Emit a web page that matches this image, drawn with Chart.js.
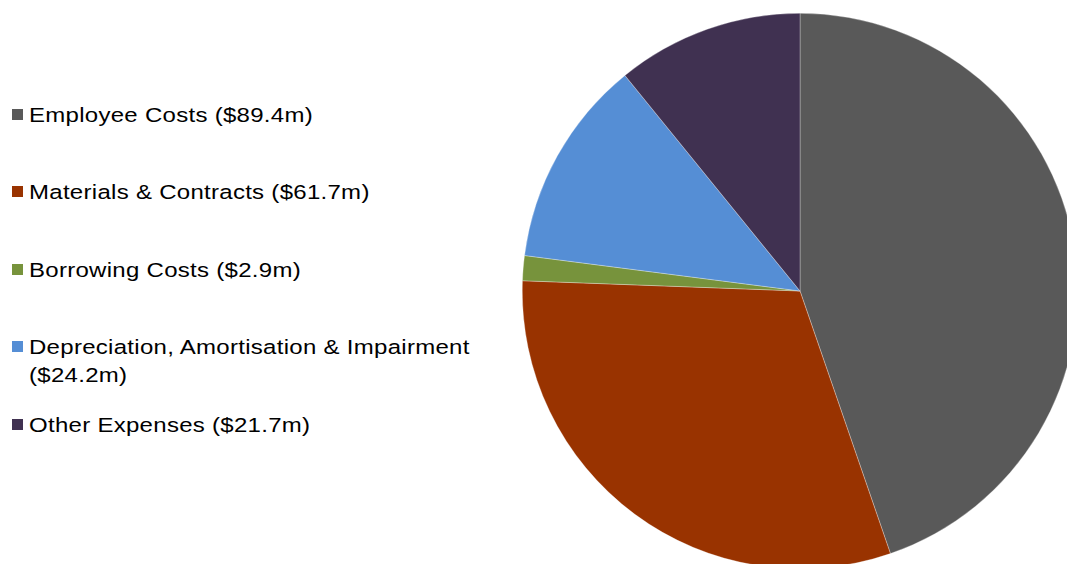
<!DOCTYPE html>
<html>
<head>
<meta charset="utf-8">
<script src="https://cdn.jsdelivr.net/npm/chart.js@4.4.1/dist/chart.umd.min.js"></script>
<style>
  html, body { margin: 0; padding: 0; background: #fff; }
  #frame { position: relative; width: 1067px; height: 564px; overflow: hidden; background: #fff; }
  #pieBox { position: absolute; left: 522px; top: 13px; width: 556px; height: 556px; }
  #legend { position: absolute; left: 0; top: 0; font-family: "Liberation Sans", Arial, sans-serif; font-size: 20.5px; color: #000; }
  .item { position: absolute; left: 0; width: 490px; line-height: 28px; }
  .swatch { position: absolute; left: 12px; top: 8px; width: 11px; height: 11px; }
  .label { position: absolute; left: 29px; width: 390px; letter-spacing: 0.25px;
           transform: scaleX(1.17); transform-origin: 0 0; white-space: normal; }
</style>
</head>
<body>
<div id="frame">
  <div id="legend"></div>
  <div id="pieBox"><canvas id="pie" width="556" height="556"></canvas></div>
</div>
<script>
const categories = [
  "Employee Costs ($89.4m)",
  "Materials & Contracts ($61.7m)",
  "Borrowing Costs ($2.9m)",
  "Depreciation, Amortisation & Impairment ($24.2m)",
  "Other Expenses ($21.7m)"
];
const expenses = [89.4, 61.7, 2.9, 24.2, 21.7];
const colors = ["#595959", "#993300", "#77933C", "#558ED5", "#403151"];

// Legend entries, stacked down the left side
const legendTops = [101, 178, 256, 333, 411];
const legend = document.getElementById("legend");
categories.forEach((name, i) => {
  const item = document.createElement("div");
  item.className = "item";
  item.style.top = legendTops[i] + "px";
  const sw = document.createElement("div");
  sw.className = "swatch";
  sw.style.background = colors[i];
  const lb = document.createElement("div");
  lb.className = "label";
  lb.textContent = name;
  item.appendChild(sw);
  item.appendChild(lb);
  legend.appendChild(item);
});

new Chart(document.getElementById("pie"), {
  type: "pie",
  data: {
    labels: categories,
    datasets: [{
      data: expenses,
      backgroundColor: colors,
      borderColor: "rgba(255,255,255,0.6)",
      borderWidth: 0.5
    }]
  },
  options: {
    responsive: false,
    animation: false,
    layout: { padding: 0 },
    plugins: { legend: { display: false }, tooltip: { enabled: false } }
  }
});
</script>
</body>
</html>
